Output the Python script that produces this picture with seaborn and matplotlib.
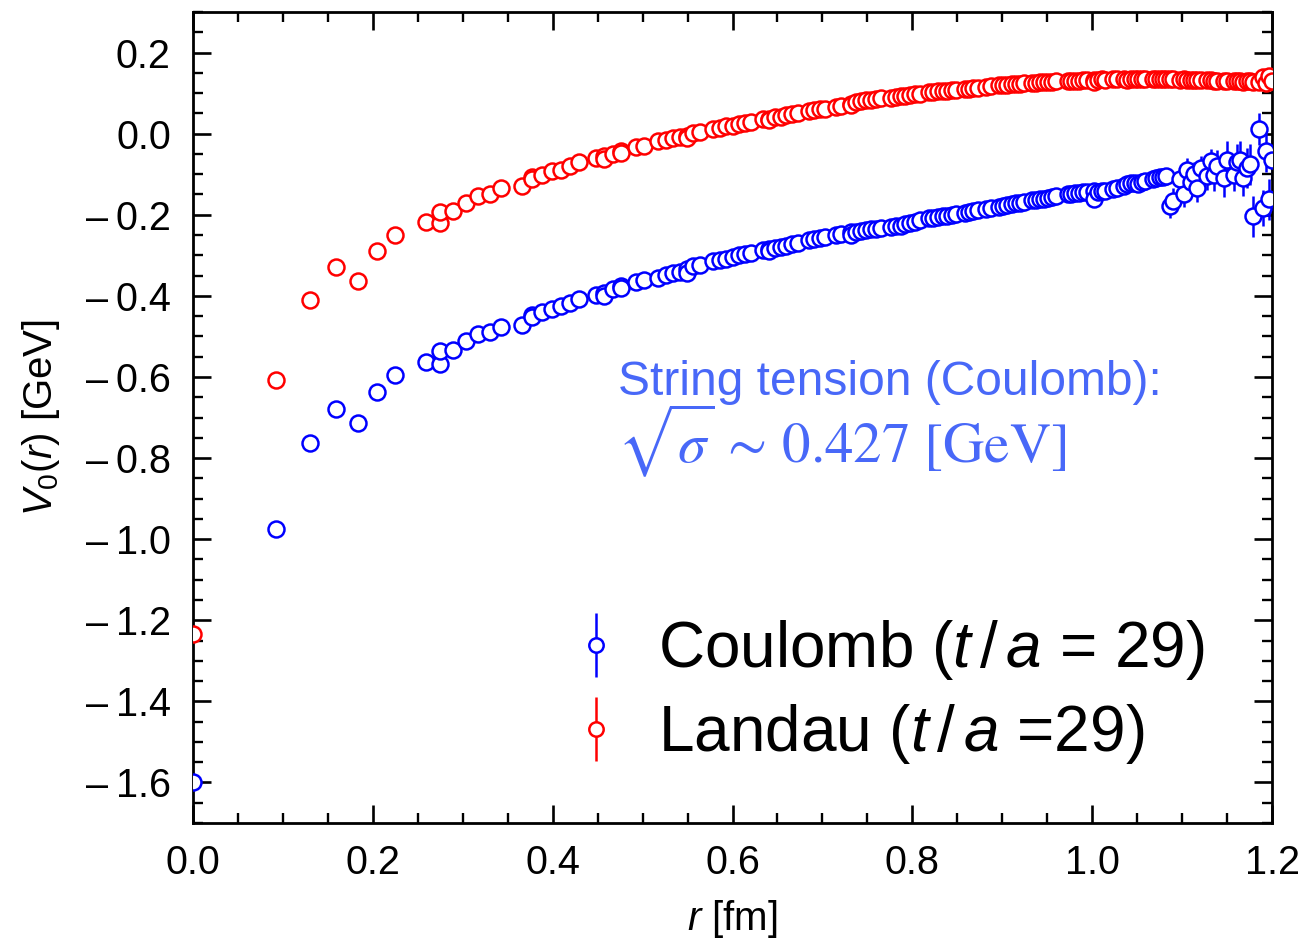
import numpy as np
import pandas as pd
import matplotlib
matplotlib.use("Agg")
import matplotlib.pyplot as plt
import seaborn as sns
from matplotlib.ticker import MultipleLocator, FuncFormatter, FormatStrFormatter

# ---------------- data ----------------
r_fm = [
    0.0, 0.0923, 0.1300, 0.1585, 0.1830, 0.2046, 0.2241, 0.2588, 0.2745, 0.2745, 0.2893,
    0.3035, 0.3170, 0.3299, 0.3424, 0.3660, 0.3773, 0.3773, 0.3882, 0.3988, 0.4092,
    0.4193, 0.4292, 0.4483, 0.4575, 0.4575, 0.4666, 0.4755, 0.4755, 0.4927, 0.5012,
    0.5176, 0.5256, 0.5335, 0.5413, 0.5490, 0.5490, 0.5566, 0.5640, 0.5787, 0.5859,
    0.5930, 0.6000, 0.6069, 0.6138, 0.6206, 0.6339, 0.6405, 0.6405, 0.6470, 0.6534,
    0.6598, 0.6661, 0.6724, 0.6847, 0.6908, 0.6968, 0.7028, 0.7146, 0.7205, 0.7320,
    0.7320, 0.7377, 0.7433, 0.7490, 0.7545, 0.7601, 0.7655, 0.7764, 0.7818, 0.7871,
    0.7924, 0.7977, 0.8029, 0.8081, 0.8184, 0.8235, 0.8286, 0.8336, 0.8386, 0.8436,
    0.8485, 0.8583, 0.8632, 0.8680, 0.8729, 0.8824, 0.8871, 0.8965, 0.9012, 0.9058,
    0.9104, 0.9150, 0.9196, 0.9241, 0.9331, 0.9376, 0.9420, 0.9465, 0.9509, 0.9553,
    0.9597, 0.9727, 0.9770, 0.9812, 0.9855, 0.9897, 0.9939, 1.0023, 1.0023, 1.0065,
    1.0107, 1.0148, 1.0230, 1.0271, 1.0352, 1.0392, 1.0433, 1.0473, 1.0513, 1.0552,
    1.0592, 1.0671, 1.0710, 1.0749, 1.0788, 1.0826, 1.0865, 1.0904, 1.0980, 1.1018,
    1.1056, 1.1094, 1.1131, 1.1169, 1.1206, 1.1281, 1.1318, 1.1355, 1.1392, 1.1465,
    1.1501, 1.1574, 1.1610, 1.1646, 1.1682, 1.1718, 1.1753, 1.1789, 1.1860, 1.1895,
    1.1930, 1.1965, 1.2000,
]

V_coulomb = [
    -1.600, -0.974, -0.764, -0.678, -0.714, -0.636, -0.594, -0.562, -0.567, -0.536, -0.534,
    -0.512, -0.495, -0.490, -0.477, -0.473, -0.447, -0.453, -0.441, -0.432, -0.425,
    -0.417, -0.408, -0.397, -0.392, -0.400, -0.384, -0.376, -0.381, -0.366, -0.362,
    -0.356, -0.349, -0.343, -0.340, -0.335, -0.343, -0.327, -0.325, -0.314, -0.312,
    -0.309, -0.305, -0.300, -0.298, -0.294, -0.287, -0.284, -0.290, -0.282, -0.279,
    -0.276, -0.272, -0.270, -0.262, -0.260, -0.257, -0.255, -0.250, -0.248, -0.243,
    -0.249, -0.242, -0.240, -0.238, -0.236, -0.234, -0.232, -0.230, -0.228, -0.227,
    -0.224, -0.220, -0.217, -0.214, -0.208, -0.207, -0.206, -0.204, -0.202, -0.201,
    -0.199, -0.196, -0.194, -0.191, -0.188, -0.185, -0.183, -0.180, -0.178, -0.176,
    -0.174, -0.172, -0.170, -0.168, -0.164, -0.163, -0.162, -0.160, -0.158, -0.156,
    -0.154, -0.150, -0.149, -0.147, -0.146, -0.144, -0.143, -0.142, -0.160, -0.145,
    -0.142, -0.141, -0.137, -0.135, -0.130, -0.124, -0.122, -0.121, -0.124, -0.120,
    -0.116, -0.112, -0.110, -0.108, -0.106, -0.105, -0.179, -0.165, -0.113, -0.150,
    -0.089, -0.120, -0.100, -0.134, -0.085, -0.105, -0.068, -0.101, -0.080, -0.110,
    -0.064, -0.101, -0.070, -0.064, -0.109, -0.085, -0.076, -0.204, 0.011, -0.183,
    -0.044, -0.162, -0.064,
]

V_landau = [
    -1.235, -0.608, -0.410, -0.330, -0.363, -0.290, -0.250, -0.218, -0.221, -0.194, -0.191,
    -0.171, -0.154, -0.150, -0.134, -0.128, -0.108, -0.112, -0.103, -0.091, -0.089,
    -0.081, -0.071, -0.060, -0.056, -0.062, -0.049, -0.044, -0.047, -0.033, -0.031,
    -0.019, -0.016, -0.011, -0.008, -0.005, -0.010, 0.001, 0.003, 0.012, 0.014,
    0.018, 0.020, 0.024, 0.026, 0.029, 0.036, 0.037, 0.033, 0.040, 0.042,
    0.045, 0.048, 0.050, 0.057, 0.059, 0.061, 0.062, 0.066, 0.069, 0.074,
    0.070, 0.078, 0.080, 0.082, 0.084, 0.085, 0.087, 0.089, 0.091, 0.092,
    0.094, 0.096, 0.097, 0.099, 0.102, 0.102, 0.104, 0.105, 0.106, 0.107,
    0.108, 0.110, 0.111, 0.112, 0.113, 0.115, 0.117, 0.121, 0.121, 0.120,
    0.122, 0.123, 0.123, 0.124, 0.125, 0.126, 0.128, 0.128, 0.128, 0.128,
    0.129, 0.129, 0.130, 0.130, 0.131, 0.132, 0.132, 0.133, 0.128, 0.133,
    0.134, 0.133, 0.134, 0.134, 0.134, 0.133, 0.134, 0.135, 0.135, 0.135,
    0.134, 0.135, 0.135, 0.135, 0.135, 0.135, 0.134, 0.134, 0.133, 0.134,
    0.133, 0.133, 0.133, 0.132, 0.133, 0.132, 0.132, 0.131, 0.131, 0.130,
    0.130, 0.129, 0.130, 0.129, 0.128, 0.130, 0.129, 0.127, 0.128, 0.140,
    0.125, 0.142, 0.130,
]

err_coulomb = [
    0.001, 0.001, 0.001, 0.001, 0.001, 0.001, 0.001, 0.001, 0.001, 0.001, 0.001,
    0.002, 0.002, 0.002, 0.002, 0.002, 0.002, 0.002, 0.002, 0.002, 0.002,
    0.002, 0.002, 0.002, 0.002, 0.002, 0.002, 0.002, 0.002, 0.002, 0.002,
    0.002, 0.002, 0.002, 0.002, 0.002, 0.002, 0.002, 0.002, 0.002, 0.002,
    0.002, 0.002, 0.002, 0.002, 0.002, 0.002, 0.002, 0.002, 0.002, 0.002,
    0.002, 0.002, 0.002, 0.002, 0.002, 0.002, 0.002, 0.002, 0.002, 0.002,
    0.003, 0.003, 0.003, 0.003, 0.003, 0.003, 0.003, 0.003, 0.003, 0.003,
    0.003, 0.003, 0.003, 0.003, 0.003, 0.003, 0.003, 0.003, 0.003, 0.003,
    0.004, 0.004, 0.004, 0.004, 0.004, 0.004, 0.004, 0.004, 0.004, 0.004,
    0.004, 0.004, 0.004, 0.004, 0.004, 0.004, 0.004, 0.004, 0.004, 0.004,
    0.006, 0.006, 0.006, 0.006, 0.006, 0.006, 0.006, 0.006, 0.006, 0.006,
    0.008, 0.008, 0.010, 0.010, 0.012, 0.012, 0.012, 0.014, 0.014, 0.014,
    0.015, 0.015, 0.016, 0.016, 0.018, 0.018, 0.030, 0.030, 0.025, 0.030,
    0.030, 0.035, 0.030, 0.035, 0.030, 0.035, 0.030, 0.040, 0.040, 0.045,
    0.045, 0.040, 0.045, 0.045, 0.045, 0.050, 0.050, 0.050, 0.040, 0.045,
    0.050, 0.050, 0.050,
]

err_landau = [
    0.001, 0.001, 0.001, 0.001, 0.001, 0.001, 0.001, 0.001, 0.001, 0.001, 0.001,
    0.001, 0.001, 0.001, 0.001, 0.001, 0.001, 0.001, 0.001, 0.001, 0.001,
    0.001, 0.001, 0.001, 0.001, 0.001, 0.001, 0.001, 0.001, 0.001, 0.001,
    0.002, 0.002, 0.002, 0.002, 0.002, 0.002, 0.002, 0.002, 0.002, 0.002,
    0.002, 0.002, 0.002, 0.002, 0.002, 0.002, 0.002, 0.002, 0.002, 0.002,
    0.002, 0.002, 0.002, 0.002, 0.002, 0.002, 0.002, 0.002, 0.002, 0.002,
    0.002, 0.002, 0.002, 0.002, 0.002, 0.002, 0.002, 0.002, 0.002, 0.002,
    0.003, 0.003, 0.003, 0.003, 0.003, 0.003, 0.003, 0.003, 0.003, 0.003,
    0.003, 0.003, 0.003, 0.003, 0.003, 0.003, 0.003, 0.003, 0.003, 0.003,
    0.003, 0.003, 0.003, 0.003, 0.003, 0.003, 0.003, 0.003, 0.003, 0.003,
    0.004, 0.004, 0.004, 0.004, 0.004, 0.004, 0.004, 0.004, 0.004, 0.004,
    0.004, 0.004, 0.004, 0.004, 0.004, 0.004, 0.004, 0.004, 0.004, 0.004,
    0.005, 0.005, 0.005, 0.005, 0.005, 0.005, 0.005, 0.005, 0.005, 0.005,
    0.005, 0.005, 0.005, 0.005, 0.005, 0.005, 0.005, 0.005, 0.005, 0.005,
    0.006, 0.006, 0.006, 0.006, 0.006, 0.006, 0.006, 0.006, 0.008, 0.008,
    0.008, 0.008, 0.008,
]

labels = ["Coulomb ($t\\,/\\,a$ = 29)", "Landau ($t\\,/\\,a$ =29)"]
colors = ["#0000ff", "#ff0000"]
annot_color = "#4868f8"

# ---------------- style ----------------
sns.set_theme(style="ticks")
plt.rcParams["font.family"] = ["Liberation Sans", "DejaVu Sans"]
plt.rcParams["mathtext.fontset"] = "custom"
plt.rcParams["mathtext.rm"] = "Liberation Sans"
plt.rcParams["mathtext.it"] = "Liberation Sans:italic"
plt.rcParams["mathtext.bf"] = "Liberation Sans:bold"
plt.rcParams["text.color"] = "black"
plt.rcParams["axes.labelcolor"] = "black"
plt.rcParams["xtick.color"] = "black"
plt.rcParams["ytick.color"] = "black"

fig = plt.figure(figsize=(12.99, 9.41), dpi=100)
ax = fig.add_axes([193 / 1299, 1 - 823 / 941, (1272 - 193) / 1299, (823 - 12) / 941])

df = pd.DataFrame({
    "r": r_fm + r_fm,
    "V": V_coulomb + V_landau,
    "err": err_coulomb + err_landau,
    "gauge": ["Coulomb"] * len(r_fm) + ["Landau"] * len(r_fm),
})

MS = 11.5
MEW = 1.8
handles = []
for gauge, col in zip(["Coulomb", "Landau"], colors):
    sub = df[df["gauge"] == gauge]
    ax.errorbar(sub["r"], sub["V"], yerr=sub["err"], fmt="none",
                ecolor=col, elinewidth=1.8, capsize=0, zorder=2)
    sns.scatterplot(data=sub, x="r", y="V", ax=ax, marker="o", s=MS ** 2,
                    color="white", edgecolor=col, linewidth=MEW,
                    zorder=3, legend=False)
    h = ax.errorbar([np.nan], [np.nan], yerr=[0.05], fmt="o", ms=MS,
                    mfc="white", mec=col, mew=MEW, ecolor=col,
                    elinewidth=1.8, capsize=0)
    handles.append(h)

ax.set_xlim(0, 1.2)
ax.set_ylim(-1.7, 0.3)
ax.xaxis.set_major_locator(MultipleLocator(0.2))
ax.xaxis.set_minor_locator(MultipleLocator(0.05))
ax.yaxis.set_major_locator(MultipleLocator(0.2))
ax.yaxis.set_minor_locator(MultipleLocator(0.05))
ax.xaxis.set_major_formatter(FormatStrFormatter("%.1f"))
ax.yaxis.set_major_formatter(
    FuncFormatter(lambda v, p: ("\u2013\u2009" if v < -1e-9 else "") + "%.1f" % abs(v)))

for sp in ax.spines.values():
    sp.set_linewidth(2.0)
    sp.set_color("black")
ax.tick_params(which="both", direction="in", top=True, right=True,
               colors="black", labelcolor="black", labelsize=28.5)
ax.tick_params(which="major", length=13, width=1.9)
ax.tick_params(which="minor", length=7, width=1.7)
ax.tick_params(axis="y", which="major", pad=16)
ax.tick_params(axis="x", which="major", pad=15)

ax.set_xlabel("$r$ [fm]", fontsize=29, labelpad=12)
ax.set_ylabel("$V_0(r)$ [GeV]", fontsize=29, labelpad=17)

leg = ax.legend(handles=handles, labels=labels, loc="upper left",
                bbox_to_anchor=(564 / 1299, 1 - 618 / 941),
                bbox_transform=fig.transFigure, frameon=False, fontsize=46,
                handlelength=1.0, handletextpad=0.47, borderpad=0,
                borderaxespad=0, labelspacing=0.32, markerscale=0.9)

fig.text(618 / 1299, 1 - 395 / 941, "String tension (Coulomb):",
         fontsize=34.5, color=annot_color, va="baseline", ha="left")
fig.text(617 / 1299, 1 - 462 / 941,
         r"$\sqrt{\sigma}\,\sim\,0.427\ [\mathrm{GeV}]$",
         fontsize=41, color=annot_color, va="baseline", ha="left",
         math_fontfamily="stix")

fig.savefig("out.png", dpi=100)
